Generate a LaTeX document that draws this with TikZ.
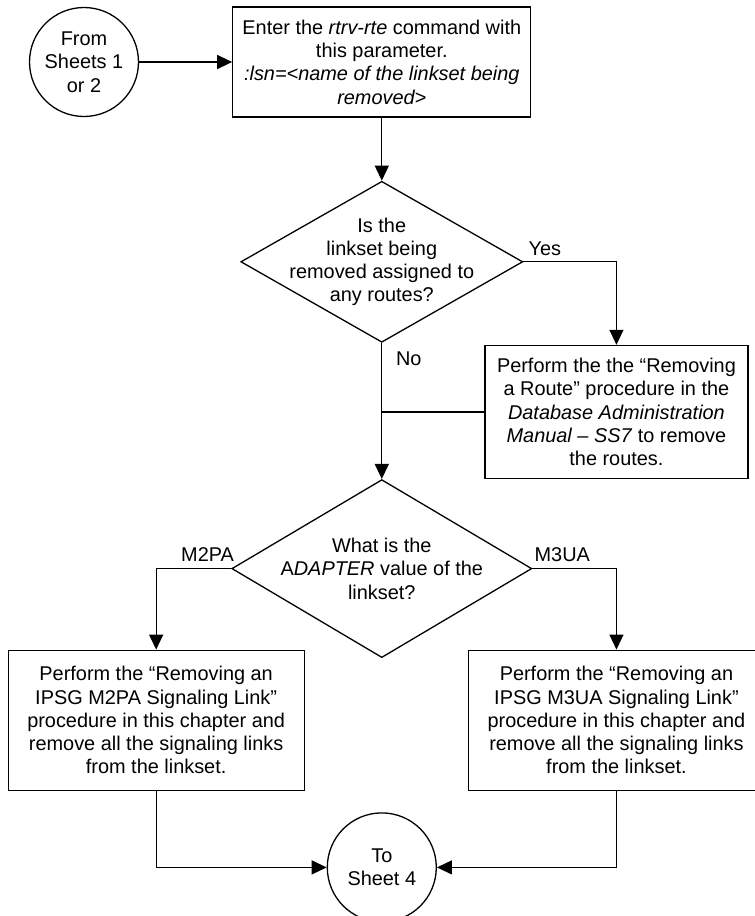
\documentclass[tikz,border=0pt]{standalone}
\usepackage{fontspec}
\setmainfont{Liberation Sans}
\usetikzlibrary{arrows.meta, positioning, shapes.geometric}
\tikzset{
  process/.style={draw, line width=1.3pt, align=center, inner sep=4pt,
    font=\fontsize{19.9}{23.3}\selectfont},
  decision/.style={draw, diamond, line width=1.3pt, inner sep=0pt},
  qtext/.style={align=center, inner sep=0pt, font=\fontsize{19.9}{23.3}\selectfont},
  sheet/.style={draw, circle, line width=1.3pt, minimum size=109pt, inner sep=0pt,
    align=center, font=\fontsize{19.9}{23.3}\selectfont},
  answer/.style={inner sep=0pt, font=\fontsize{19.9}{23.3}\selectfont},
  arrow/.style={-{Triangle[length=15pt, width=14pt]}, line width=1.3pt},
  link/.style={line width=1.3pt}
}
\begin{document}
\begin{tikzpicture}
    \useasboundingbox (0,0) rectangle (755pt,-916pt);
    \node[sheet] (from) at (84pt,-62pt) {From\\Sheets 1\\or 2};
    \node[process, minimum width=298pt, minimum height=110pt, right=93pt of from] (enter)
      {Enter the \textit{rtrv-rte} command with\\this parameter.\\\textit{:lsn=<name of the linkset being}\\\textit{removed>}};
    \node[decision, minimum width=282pt, minimum height=161pt, below=63pt of enter,
      label={[qtext]center:{Is the\\linkset being\\removed assigned to\\any routes?}}] (q1) {};
    \node[process, minimum width=263pt, minimum height=133pt, below=83pt of q1.east, xshift=93pt] (route)
      {Perform the the “Removing\\a Route” procedure in the\\\textit{Database Administration}\\\textit{Manual – SS7} to remove\\the routes.};
    \node[decision, minimum width=300pt, minimum height=178pt, below=136pt of q1,
      label={[qtext]center:{What is the\\A\textit{DAPTER} value of the\\linkset?}}] (q2) {};
    \node[process, minimum width=296pt, minimum height=140pt, below=81pt of q2.west, xshift=-75pt] (mtwo)
      {Perform the “Removing an\\IPSG M2PA Signaling Link”\\procedure in this chapter and\\remove all the signaling links\\from the linkset.};
    \node[process, minimum width=296pt, minimum height=140pt, below=81pt of q2.east, xshift=84pt] (mthree)
      {Perform the “Removing an\\IPSG M3UA Signaling Link”\\procedure in this chapter and\\remove all the signaling links\\from the linkset.};
    \node[sheet, below=154pt of q2] (tosheet) {To\\Sheet 4};
    % answers
    \node[answer, above right=6pt and 5pt of q1.east] (yes) {Yes};
    \node[answer, below right=9pt and 14pt of q1.south] (no) {No};
    \node[answer, above left=7pt and -3pt of q2.west] (lblmtwo) {M2PA};
    \node[answer, above right=7pt and 2pt of q2.east] (lblmthree) {M3UA};
    \coordinate (join) at (route.west -| q1.south);
    \draw[arrow] (from) -- (enter);
    \draw[arrow] (enter) -- (q1);
    \draw[arrow] (q1.east) -| (route.north);
    \draw[arrow] (q1.south) -- (q2.north);
    \draw[link] (route.west) -- (join);
    \draw[arrow] (q2.west) -| (mtwo.north);
    \draw[arrow] (q2.east) -| (mthree.north);
    \draw[arrow] (mtwo.south) |- (tosheet.west);
    \draw[arrow] (mthree.south) |- (tosheet.east);
\end{tikzpicture}
\end{document}
